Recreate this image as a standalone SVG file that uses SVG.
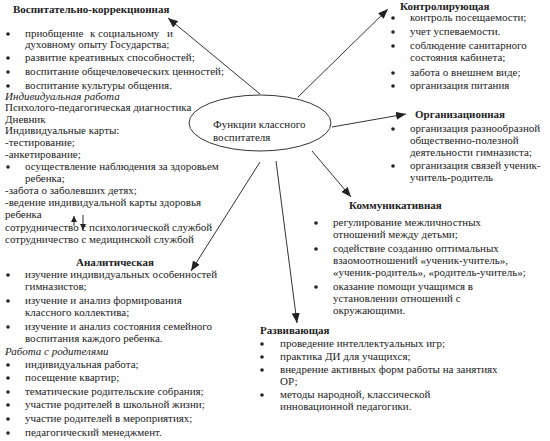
<svg xmlns="http://www.w3.org/2000/svg" width="550" height="441" viewBox="0 0 550 441" font-family="'Liberation Serif', 'DejaVu Serif', serif">
<defs>
<style>
text{font-family:'Liberation Serif','DejaVu Serif',serif;font-size:11px;fill:#222}
.h{font-weight:bold}
.i{font-style:italic}
.b{fill:#222}
.c line{stroke:#333;stroke-width:1;fill:none}
</style>
<marker id="ah" markerUnits="userSpaceOnUse" markerWidth="12" markerHeight="10" refX="10" refY="4" orient="auto">
<path d="M0,0 L10,4 L0,8 Z" fill="#222"/>
</marker>
<marker id="as" markerUnits="userSpaceOnUse" markerWidth="8" markerHeight="8" refX="6" refY="3" orient="auto">
<path d="M0,0 L6,3 L0,6 Z" fill="#222"/>
</marker>
</defs>
<rect width="550" height="441" fill="#fff"/>

<g id="center">
<ellipse cx="260" cy="123" rx="71" ry="28" fill="none" stroke="#333" stroke-width="1"/>
<text x="213" y="128">Функции классного</text>
<text x="213" y="141">воспитателя</text>
</g>

<g class="c" id="connectors">
<line x1="260" y1="94" x2="168" y2="18" marker-end="url(#ah)"/>
<line x1="298" y1="97" x2="388" y2="9" marker-end="url(#ah)"/>
<line x1="332" y1="127" x2="406" y2="114" marker-end="url(#ah)"/>
<line x1="312" y1="151" x2="351" y2="197" marker-end="url(#ah)"/>
<line x1="276" y1="161" x2="297" y2="323" marker-end="url(#ah)"/>
<line x1="260" y1="162" x2="191" y2="271" marker-end="url(#ah)"/>
<line x1="74" y1="226" x2="74" y2="216" marker-end="url(#as)"/>
<line x1="83" y1="215" x2="83" y2="230" marker-end="url(#as)"/>
</g>

<g id="vospitatelno">
<text class="h" x="13" y="13">Воспитательно-коррекционная</text>
<circle class="b" cx="8" cy="34" r="1.8"/>
<text y="37"><tspan x="25">приобщение</tspan><tspan x="90">к социальному</tspan><tspan x="167">и</tspan></text>
<text x="25" y="48">духовному опыту Государства;</text>
<circle class="b" cx="8" cy="58" r="1.8"/>
<text x="25" y="61">развитие креативных способностей;</text>
<circle class="b" cx="8" cy="72" r="1.8"/>
<text x="25" y="75">воспитание общечеловеческих ценностей;</text>
<circle class="b" cx="8" cy="86" r="1.8"/>
<text x="25" y="89">воспитание культуры общения.</text>
<text class="i" x="5" y="100">Индивидуальная работа</text>
<text x="5" y="111">Психолого-педагогическая диагностика</text>
<text x="5" y="123">Дневник</text>
<text x="5" y="134">Индивидуальные карты:</text>
<text x="5" y="146">-тестирование;</text>
<text x="5" y="158">-анкетирование;</text>
<circle class="b" cx="8" cy="167" r="1.8"/>
<text x="25" y="170">осуществление наблюдения за здоровьем</text>
<text x="25" y="182">ребенка;</text>
<text x="5" y="194">-забота о заболевших детях;</text>
<text x="5" y="206">-ведение индивидуальной карты здоровья</text>
<text x="5" y="218">ребенка</text>
<text x="5" y="231">сотрудничество с психологической службой</text>
<text x="5" y="243">сотрудничество с медицинской службой</text>
</g>

<g id="analiticheskaya">
<text class="h" x="76" y="266">Аналитическая</text>
<circle class="b" cx="8" cy="275" r="1.8"/>
<text x="25" y="278">изучение индивидуальных особенностей</text>
<text x="25" y="290">гимназистов;</text>
<circle class="b" cx="8" cy="301" r="1.8"/>
<text x="25" y="304">изучение и анализ формирования</text>
<text x="25" y="316">классного коллектива;</text>
<circle class="b" cx="8" cy="327" r="1.8"/>
<text x="25" y="330">изучение и анализ состояния семейного</text>
<text x="25" y="342">воспитания каждого ребенка.</text>
<text class="i" x="5" y="355">Работа с родителями</text>
<circle class="b" cx="8" cy="365" r="1.8"/>
<text x="25" y="368">индивидуальная работа;</text>
<circle class="b" cx="8" cy="378" r="1.8"/>
<text x="25" y="381">посещение квартир;</text>
<circle class="b" cx="8" cy="392" r="1.8"/>
<text x="25" y="395">тематические родительские собрания;</text>
<circle class="b" cx="8" cy="405" r="1.8"/>
<text x="25" y="408">участие родителей в школьной жизни;</text>
<circle class="b" cx="8" cy="419" r="1.8"/>
<text x="25" y="422">участие родителей в мероприятиях;</text>
<circle class="b" cx="8" cy="433" r="1.8"/>
<text x="25" y="436">педагогический менеджмент.</text>
</g>

<g id="kontroliruyushchaya">
<text class="h" x="400" y="10">Контролирующая</text>
<circle class="b" cx="393" cy="18" r="1.8"/>
<text x="410" y="21">контроль посещаемости;</text>
<circle class="b" cx="393" cy="32" r="1.8"/>
<text x="410" y="35">учет успеваемости.</text>
<circle class="b" cx="393" cy="46" r="1.8"/>
<text x="410" y="49">соблюдение санитарного</text>
<text x="410" y="61">состояния кабинета;</text>
<circle class="b" cx="393" cy="73" r="1.8"/>
<text x="410" y="76">забота о внешнем виде;</text>
<circle class="b" cx="393" cy="86" r="1.8"/>
<text x="410" y="89">организация питания</text>
</g>

<g id="organizatsionnaya">
<text class="h" x="415" y="118">Организационная</text>
<circle class="b" cx="393" cy="129" r="1.8"/>
<text x="410" y="132">организация разнообразной</text>
<text x="410" y="144">общественно-полезной</text>
<text x="410" y="156">деятельности гимназиста;</text>
<circle class="b" cx="393" cy="166" r="1.8"/>
<text x="410" y="169">организация связей ученик-</text>
<text x="410" y="181">учитель-родитель</text>
</g>

<g id="kommunikativnaya">
<text class="h" x="349" y="209">Коммуникативная</text>
<circle class="b" cx="316" cy="223" r="1.8"/>
<text x="333" y="226">регулирование межличностных</text>
<text x="333" y="238">отношений между детьми;</text>
<circle class="b" cx="316" cy="249" r="1.8"/>
<text x="333" y="252">содействие созданию оптимальных</text>
<text x="333" y="264">взаомоотношений «ученик-учитель»,</text>
<text x="333" y="276">«ученик-родитель», «родитель-учитель»;</text>
<circle class="b" cx="316" cy="287" r="1.8"/>
<text x="333" y="290">оказание помощи учащимся в</text>
<text x="333" y="302">установлении отношений с</text>
<text x="333" y="314">окружающими.</text>
</g>

<g id="razvivayushchaya">
<text class="h" x="260" y="334">Развивающая</text>
<circle class="b" cx="262" cy="344" r="1.8"/>
<text x="280" y="347">проведение интеллектуальных игр;</text>
<circle class="b" cx="262" cy="357" r="1.8"/>
<text x="280" y="360">практика ДИ для учащихся;</text>
<circle class="b" cx="262" cy="370" r="1.8"/>
<text x="280" y="373">внедрение активных форм работы на занятиях</text>
<text x="280" y="385">ОР;</text>
<circle class="b" cx="262" cy="395" r="1.8"/>
<text x="280" y="398">методы народной, классической</text>
<text x="280" y="410">инновационной педагогики.</text>
</g>
</svg>
